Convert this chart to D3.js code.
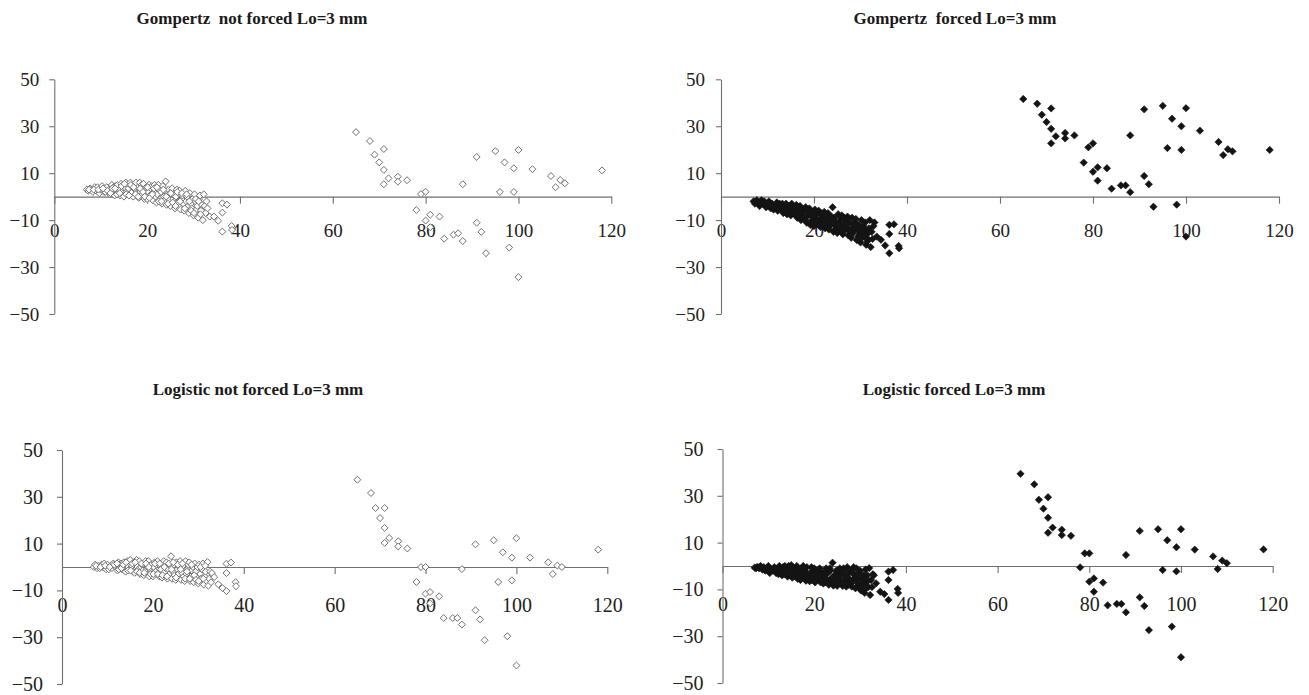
<!DOCTYPE html>
<html>
<head>
<meta charset="utf-8">
<script src="https://cdn.jsdelivr.net/npm/d3@7"></script>
<style>
  html, body { margin: 0; padding: 0; background: #fff; }
  svg { display: block; }
  svg text { font-family: "Liberation Serif", "Times New Roman", serif; }
</style>
</head>
<body>
<svg id="chart" width="1309" height="695"></svg>
<script>
// ---------- DATA ----------
const xTicks = [0, 20, 40, 60, 80, 100, 120];
const yTicks = [50, 30, 10, -10, -30, -50];

const titles = [
  "Gompertz  not forced Lo=3 mm",
  "Gompertz  forced Lo=3 mm",
  "Logistic not forced Lo=3 mm",
  "Logistic forced Lo=3 mm"
];

// x of the dense cluster of small fish (shared by all four panels)
const clusterX = [
  7, 7.3, 7.7, 8, 8.3, 8.7, 9, 9.3, 9.7, 10, 10.3, 10.7, 11, 11.3, 11.7,
  12, 12.2, 12.4, 12.6, 12.8,
  13, 13.2, 13.4, 13.6, 13.8,
  14, 14.2, 14.4, 14.6, 14.8,
  15, 15.2, 15.4, 15.6, 15.8,
  16, 16.2, 16.4, 16.6, 16.8,
  17, 17.2, 17.4, 17.6, 17.8,
  18, 18.2, 18.4, 18.6, 18.8,
  19, 19.2, 19.4, 19.6, 19.8,
  20, 20.2, 20.4, 20.6, 20.8,
  21, 21.2, 21.4, 21.6, 21.8,
  22, 22.2, 22.4, 22.6, 22.8,
  23, 23.2, 23.4, 23.6, 23.8,
  24, 24.2, 24.4, 24.6, 24.8,
  25, 25.2, 25.4, 25.6, 25.8,
  26, 26.2, 26.4, 26.6, 26.8,
  27, 27.2, 27.4, 27.6, 27.8,
  28, 28.2, 28.4, 28.6, 28.8,
  29, 29.2, 29.4, 29.6, 29.8,
  30, 30.2, 30.4, 30.6, 30.8,
  31, 31.2, 31.4, 31.6, 31.8,
  32, 32.2, 32.4, 32.6, 32.8,
  33, 33.5, 34.4, 35.3, 36.2, 36.2, 36.2, 37.2, 38.2, 38.3
];

// second layer of the dense cluster
const clusterX2 = [
  7.5, 8.5, 9.5, 10.5, 11.5,
  12.1, 12.5, 13.1, 13.5, 14.1, 14.5, 15.1, 15.5, 16.1, 16.5,
  17.1, 17.5, 18.1, 18.5, 19.1, 19.5, 20.1, 20.5, 21.1, 21.5,
  22.1, 22.5, 23.1, 23.5, 24.1, 24.5, 25.1, 25.5, 26.1, 26.5,
  27.1, 27.5, 28.1, 28.5, 29.1, 29.5, 30.1, 30.5, 31.1, 31.5
];

// x of the large fish (shared by all four panels)
const outlierX = [65, 68, 69, 70, 71, 71, 71, 72, 74, 74, 76, 78, 79, 80, 80, 81, 81, 83, 84, 86, 87,
  88, 88, 91, 91, 92, 93, 95, 96, 97, 98, 99, 99, 100, 100, 103, 107, 108, 109, 110, 118];

// residuals, Gompertz not forced
const gompNotForcedCluster = [
  3, 2.5, 3.5, 3, 2, 4, 2.5, 4, 1.5, 3, 4.5, 2, 2, 4, 3,
  1, 3, 5, 2, 4,
  0.5, 4.5, 2.5, 5, 1.5,
  3, 0.5, 5.5, 2, 4,
  0, 4, 6, 2, 5,
  3.5, 1, 6, 4.5, 2,
  0, 5, 3, 6, 1.5,
  4, -0.5, 6, 2, 5,
  1, 5.5, -1, 3, 4,
  -1, 2, 5, 0.5, 3.5,
  4.5, -1.5, 2, 5, 0,
  -2.5, 1, 5, 3, -1,
  2, -3, 4.5, 0, -1.5,
  6.5, -3.5, 1, 3, -1.5,
  -4, 2, 3.5, -1, 0.5,
  -5, 0, 3, -2.5, 1.5,
  2.5, -5.5, -1, 0.5, -3,
  -6, 2.5, -2, 0, -4,
  -7, 1.5, -3, -5, -1,
  -8, 1, -2, -5.5, -4,
  -9, -1, 0.5, -6, -3.5,
  -10, 1, -4, -7, -2,
  -5, -8.5, -8.5, -10.3, -2.8, -6.8, -14.9, -3.4, -12.5, -14.2
];
const gompNotForcedCluster2 = [
  3, 3, 3, 3.5, 2.5,
  1.5, 3.5, 3.5, 1, 1.5, 4.5, 5.5, 1, 0.5, 5,
  4, 1, 0, 3.5, 2, 0, 4, -0.5, 1, 3.5,
  4, -2, -2, 3, 0, -3, 1.5, -2.5, -4, 2,
  -2, 1.5, -5, 1, -2, -6, -7, -1, -2, -7.5
];
const gompNotForcedOutliers = [27.5, 23.7, 17.9, 14.6, 20.3, 11.4, 5.3, 7.8, 8.5, 6.4, 7.0, -5.7, 1.1, 2.1,
  -10.2, -7.7, -13, -8.5, -17.9, -16.2, -15.6, 5.3, -18.9, 16.9, -11.1, -15.0, -24.1, 19.4, 2.0, 14.6,
  -21.7, 12.1, 2.0, 19.9, -34.3, 11.7, 8.8, 4.0, 7.1, 5.7, 11.2];

// residuals, Gompertz forced
const gompForcedCluster = [
  -2, -3, -1.5, -2.5, -4, -1.5, -3, -2, -4.5, -3.5, -2, -5, -3, -5.5, -4,
  -2.5, -6, -4, -3, -5,
  -5, -3, -7, -4, -6,
  -3, -7.5, -5, -6.5, -4,
  -8, -3, -5.5, -7, -4.5,
  -6, -3.5, -9, -5, -7.5,
  -4, -10, -7, -5.5, -8.5,
  -9, -4.5, -11, -6.5, -8,
  -5, -12, -8, -10, -6.5,
  -12.5, -5.5, -9, -7, -11,
  -6, -10, -13, -8, -11.5,
  -9, -6.5, -13.5, -11, -8,
  -7, -14, -10, -12, -8.5,
  -4.5, -15, -9, -12.5, -11,
  -15.5, -7.5, -11, -13, -9.5,
  -8, -16, -12, -10, -14,
  -13, -8.5, -16.5, -11, -15,
  -17.5, -9, -13, -15, -11,
  -9.5, -18.5, -14, -12, -16,
  -19.5, -10, -15, -12.5, -17,
  -11, -20.5, -16, -18, -13.5,
  -10, -21.5, -15, -18, -12.5,
  -11, -17, -18.4, -20.8, -12, -15.9, -24.1, -11.8, -21, -22
];
const gompForcedCluster2 = [
  -2.5, -3, -3.5, -4, -4.5,
  -5.5, -3.5, -4, -6.5, -6, -4, -4, -6.5, -8, -4.5,
  -5, -9, -10, -5.5, -7, -11, -6.5, -10, -12, -7,
  -10, -12.5, -13, -9, -10, -14, -12, -14.5, -15, -9,
  -10, -14, -16, -12, -13, -17, -18, -13.5, -14.5, -19
];
const gompForcedOutliers = [41.6, 39.6, 34.9, 31.8, 37.6, 28.9, 22.7, 25.7, 27.1, 24.8, 26.1, 14.5, 21.0,
  22.7, 10.6, 12.5, 6.8, 12.1, 3.4, 4.8, 4.8, 26.1, 1.9, 37.2, 8.8, 5.3, -4.3, 38.7, 20.7, 33.2, -3.4,
  30.0, 19.9, 37.7, -17.0, 28.1, 23.3, 17.7, 20.2, 19.3, 19.9];

// residuals, Logistic not forced
const logNotForcedCluster = [
  0, 1, -0.5, 0.5, -0.5, 1, 0, 1.5, -1, 1, -1, 0.5, -0.5, 1.5, 0,
  0.5, -1.5, 2, -0.5, 1,
  1.5, -1, 0, 2, -1.5,
  -2, 1, 2.5, 0, -1,
  3, -1, 0.5, -2, 2,
  -2.5, 1.5, 3, 0, -1,
  2.5, -3, 0, 1, -1.5,
  -3.5, 1, 2.5, -1, 0,
  2.5, -4, -1, 1, -2.5,
  -4, 0, 2, -2, 1,
  2.5, -2.5, -4, 0.5, -1,
  -4.5, 1, 2.5, -2, -0.5,
  2, -5, -1, -3, 0.5,
  4.6, -5, -2, 1, -3.5,
  -5.5, 2, -1, -3, 0,
  2.5, -5.5, -2.5, 0.5, -4,
  -6, 2.5, -3, -1, 1,
  2, -6, -4, -1.5, 0,
  -6.5, 1.5, -2, -4.5, 0,
  -7, 1, -3, -5, -1,
  1.5, -7.5, -4, -2, -6,
  2.1, -8, -5, -2, -6.5,
  -2.6, -4.3, -7.4, -9, 1.4, -2.6, -10.3, 1.9, -6.5, -8.2
];
const logNotForcedCluster2 = [
  0.5, 0, 0.5, 0, 1,
  1.5, -1, -0.5, 1, 2, -1.5, -1.5, 1.5, 2, -2,
  -2.5, 1.5, -2.5, 1.5, 0, -3, -3, 1.5, -3, 1.5,
  -3.5, 0, -4, 1.5, -1, 2, -4.5, 1, -1, 1.5,
  -5, -2, -5, 1, -3.5, -5.5, -6, 0, -5, 0.5
];
const logNotForcedOutliers = [37.3, 31.6, 25.2, 20.9, 25.2, 16.7, 10.3, 12.4, 11.0, 8.8, 7.9, -6.4, 0, 0,
  -11.4, -10.7, -15.5, -12.5, -21.8, -21.8, -21.8, -0.9, -24.6, 9.7, -18.5, -22.4, -31.3, 11.4, -6.4, 6.3,
  -29.6, 4.0, -5.7, 12.3, -42.1, 4.0, 2.0, -3.0, 0.6, 0, 7.4];

// residuals, Logistic forced
const logForcedCluster = [
  -0.7, -1, -0.5, -1, 0, -1.5, -0.5, -2, -1, 0, -3, -1.5, -2, -0.5, -3,
  -1, -3.5, 0, -2.5, -1.5,
  -4, -0.5, -2, 0, -3,
  -1.5, -4.5, 0, -3, -2,
  0.4, -5, -2.5, -1, -4,
  -3, 0, -5.5, -1.5, -4.5,
  -6, -1, -3.5, 0, -5,
  -2, -6.3, -0.5, -4, -5,
  -6.5, -3, -0.5, -5, -1.5,
  -1, -7, -4, -2.5, -5.5,
  -5, -1, -7, -3, -6,
  -7.5, -2.5, -5, -1, -6,
  -3, -8, -1, -5.5, -6.5,
  1.4, -8.4, -4, -6.5, -2,
  -8.5, -2, -5, -1, -6.5,
  -3, -8.5, -1, -6, -4.5,
  -8.8, -0.5, -5, -3, -7,
  -2, -8.8, -6, -0.5, -4,
  -9.5, -1, -5, -7.5, -3,
  -2, -10.5, -6, -8, -4,
  -11.5, -1.5, -7, -4, -9,
  -0.9, -12.4, -6, -9, -3.5,
  -4, -7.4, -11, -12, -2.4, -6, -14.5, -1.7, -9.8, -11.5
];
const logForcedCluster2 = [
  -0.5, -0.5, -1.5, -2, -1.5,
  -2, -3, -1, -3.5, -3.5, -1, -3, -4.5, -2, -5,
  -2.5, -4.5, -3, -5.5, -4, -6, -6.5, -3, -2, -5.5,
  -4, -7, -7.5, -2, -5, -7.5, -4, -7.5, -7.5, -2,
  -6, -8, -7.5, -3, -6, -8.5, -9.5, -5, -10, -6
];
const logForcedOutliers = [39.4, 34.9, 28.3, 24.5, 29.4, 20.6, 14.2, 16.4, 15.5, 13.2, 12.9, -0.6, 5.4, 5.4,
  -6.7, -5.3, -11.0, -7.1, -16.8, -16.2, -16.2, 4.7, -19.8, 15.0, -13.4, -17.1, -27.4, 15.7, -1.7, 11.0,
  -25.9, 8.0, -2.3, 15.7, -39.0, 7.0, 4.1, -1.3, 2.3, 1.2, 7.1];

// ---------- LAYOUT ----------
const panels = [
  { title: titles[0], tx: 252, ty: 24, x0: 54.3, x1: 611.3, yT: 79.3, yB: 314, cy: gompNotForcedCluster, cy2: gompNotForcedCluster2, oy: gompNotForcedOutliers, filled: false, fs: 19, xPad: 19.5, yPad: 10 },
  { title: titles[1], tx: 955, ty: 24, x0: 721, x1: 1279, yT: 79.3, yB: 314, cy: gompForcedCluster, cy2: gompForcedCluster2, oy: gompForcedOutliers, filled: true, fs: 19, xPad: 19.5, yPad: 11 },
  { title: titles[2], tx: 258, ty: 395, x0: 62, x1: 607.3, yT: 450, yB: 684, cy: logNotForcedCluster, cy2: logNotForcedCluster2, oy: logNotForcedOutliers, filled: false, fs: 20, xPad: 23.5, yPad: 14 },
  { title: titles[3], tx: 954, ty: 395, x0: 722.5, x1: 1272.7, yT: 449, yB: 683, cy: logForcedCluster, cy2: logForcedCluster2, oy: logForcedOutliers, filled: true, fs: 20, xPad: 23.5, yPad: 14 }
];

const svg = d3.select("#chart");
svg.append("rect").attr("width", 1309).attr("height", 695).attr("fill", "#fff");

const diamond = {
  draw(ctx, size) {
    const r = Math.sqrt(size / 2);
    ctx.moveTo(0, -r); ctx.lineTo(r, 0); ctx.lineTo(0, r); ctx.lineTo(-r, 0); ctx.closePath();
  }
};

const axisColor = "#6f6f6f";
const font = "'Liberation Serif', 'Times New Roman', serif";

panels.forEach(p => {
  const x = d3.scaleLinear().domain([0, 120]).range([p.x0, p.x1]);
  const y = d3.scaleLinear().domain([50, -50]).range([p.yT, p.yB]);

  svg.append("text")
    .attr("x", p.tx).attr("y", p.ty)
    .attr("text-anchor", "middle")
    .style("white-space", "pre")
    .style("font-family", font).attr("font-weight", "bold").attr("font-size", 17)
    .attr("fill", "#1a1a1a")
    .text(p.title);

  const gx = svg.append("g").attr("transform", `translate(0,${y(0)})`)
    .call(d3.axisBottom(x).tickValues(xTicks).tickSize(7).tickSizeOuter(0).tickPadding(p.xPad).tickFormat(d3.format("d")));
  const gy = svg.append("g").attr("transform", `translate(${x(0)},0)`)
    .call(d3.axisLeft(y).tickValues(yTicks).tickSize(5).tickSizeOuter(0).tickPadding(p.yPad).tickFormat(d3.format("d")));
  [gx, gy].forEach(g => {
    g.attr("font-family", null).style("font-family", font);
    g.select(".domain").attr("stroke", axisColor).attr("stroke-width", 1.1);
    g.selectAll(".tick line").attr("stroke", axisColor).attr("stroke-width", 1.1);
    g.selectAll(".tick text").style("font-family", font).attr("font-size", p.fs).attr("fill", "#222");
  });

  const pts = clusterX.map((d, i) => [d, p.cy[i]])
    .concat(clusterX2.map((d, i) => [d, p.cy2[i]]))
    .concat(outlierX.map((d, i) => [d, p.oy[i]]));
  const sym = d3.symbol().type(diamond).size(p.filled ? 27 : 24);
  svg.append("g").selectAll("path").data(pts).join("path")
    .attr("transform", d => `translate(${x(d[0])},${y(d[1])})`)
    .attr("d", sym)
    .attr("fill", p.filled ? "#141414" : "#fff")
    .attr("stroke", p.filled ? "#141414" : "#707070")
    .attr("stroke-width", p.filled ? 0.6 : 1);
});
</script>
</body>
</html>
